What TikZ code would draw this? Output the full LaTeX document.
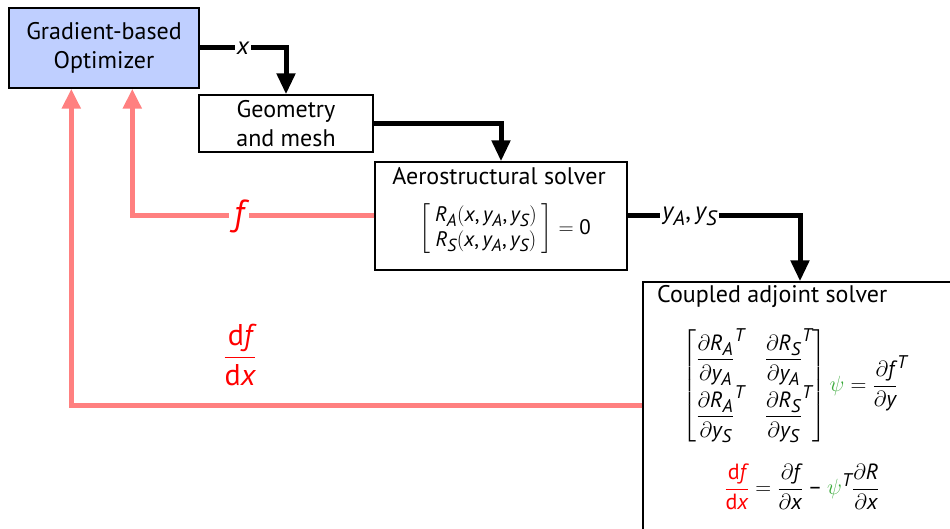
\RequirePackage{fix-cm}
\documentclass[tikz,border=0pt]{standalone}
\usepackage{amsmath}
\usepackage{fontspec}
\setmainfont{PT Sans}
\usepackage[italic]{mathastext}
\usetikzlibrary{arrows.meta}

\definecolor{optblue}{RGB}{191,207,255}
\definecolor{sensred}{RGB}{255,128,128}
\definecolor{psigreen}{RGB}{60,170,60}

\newcommand{\pd}[2]{\dfrac{\partial #1}{\partial #2}}
\newcommand{\psig}{{\color{psigreen}\psi}}

\begin{document}
\begin{tikzpicture}[x=1pt, y=-1pt,
    block/.style={draw, line width=1.4pt, inner sep=0pt},
    title/.style={font=\fontsize{24}{29}\selectfont, align=center},
    flow/.style={line width=5pt, -{Triangle[width=18pt,length=21pt]}},
    sens/.style={sensred, line width=5pt, -{Triangle[width=18pt,length=20pt]}},
    cut/.style={fill=white, inner sep=2pt},
    eq/.style={font=\fontsize{22}{26}\selectfont, inner sep=0pt}]
    % Page frame
    \useasboundingbox (0,0) rectangle (950,529);
    \clip (0,0) rectangle (950,529);

    % --- Blocks ---
    \node[block, fill=optblue, minimum width=190pt, minimum height=80pt, title] (opt) at (104,48)
        {Gradient-based\\Optimizer};
    \node[block, minimum width=174pt, minimum height=57pt, title] (geo) at (286,123.5)
        {Geometry\\and mesh};
    \node[block, minimum width=252pt, minimum height=108pt] (aero) at (501,216) {};
    \node[block, minimum width=314pt, minimum height=280pt] (adj) at (800,422) {};

    % --- Block contents ---
    \node[title, inner sep=0pt] (aerotitle) at (499,176) {Aerostructural solver};
    \node[eq, font=\fontsize{21}{25}\selectfont] (aeroeq) at (505,229)
        {$\left[\begin{array}{c} R_A(x,y_A,y_S)\\ R_S(x,y_A,y_S)\end{array}\right] = \text{0}$};
    \node[title, inner sep=0pt, anchor=west] (adjtitle) at (657,296) {Coupled adjoint solver};
    \node[eq] (adjeq) at (795,386)
        {$\setlength{\arraycolsep}{10pt}\begin{bmatrix} {\pd{R_A}{y_A}}^{T} & {\pd{R_S}{y_A}}^{T}\\[9pt]
          {\pd{R_A}{y_S}}^{T} & {\pd{R_S}{y_S}}^{T}\end{bmatrix}
          \psig = {\pd{f}{y}}^{T}$};
    \node[eq] (totaleq) at (802,487)
        {$\color{red}\dfrac{\mathrm{d}f}{\mathrm{d}x}\color{black} = \pd{f}{x} - \psig^{T}\pd{R}{x}$};

    % --- Forward path (black) ---
    \draw[flow] (opt.east) -| (geo.north)
        node[pos=0.25, cut, font=\fontsize{25}{29}\selectfont] (xlbl) {$x$};
    \draw[flow] (geo.east) -| (aero.north);
    \draw[flow] (aero.east) -| (adj.north)
        node[pos=0.18, cut, font=\fontsize{25}{29}\selectfont] (ylbl) {$y_A,y_S$};

    % --- Sensitivity path (red) ---
    \draw[sens] (aero.west) -| ([xshift=124pt]opt.south west)
        node[pos=0.28, cut, inner sep=5pt, text=red, font=\fontsize{36}{40}\selectfont] (flbl) {$f$};
    \draw[sens] ([yshift=17pt]adj.west) -| ([xshift=63pt]opt.south west);
    \node[text=red, font=\fontsize{30}{34}\selectfont] (dfdx) at (240,355)
        {$\dfrac{\mathrm{d}f}{\mathrm{d}x}$};
\end{tikzpicture}
\end{document}
